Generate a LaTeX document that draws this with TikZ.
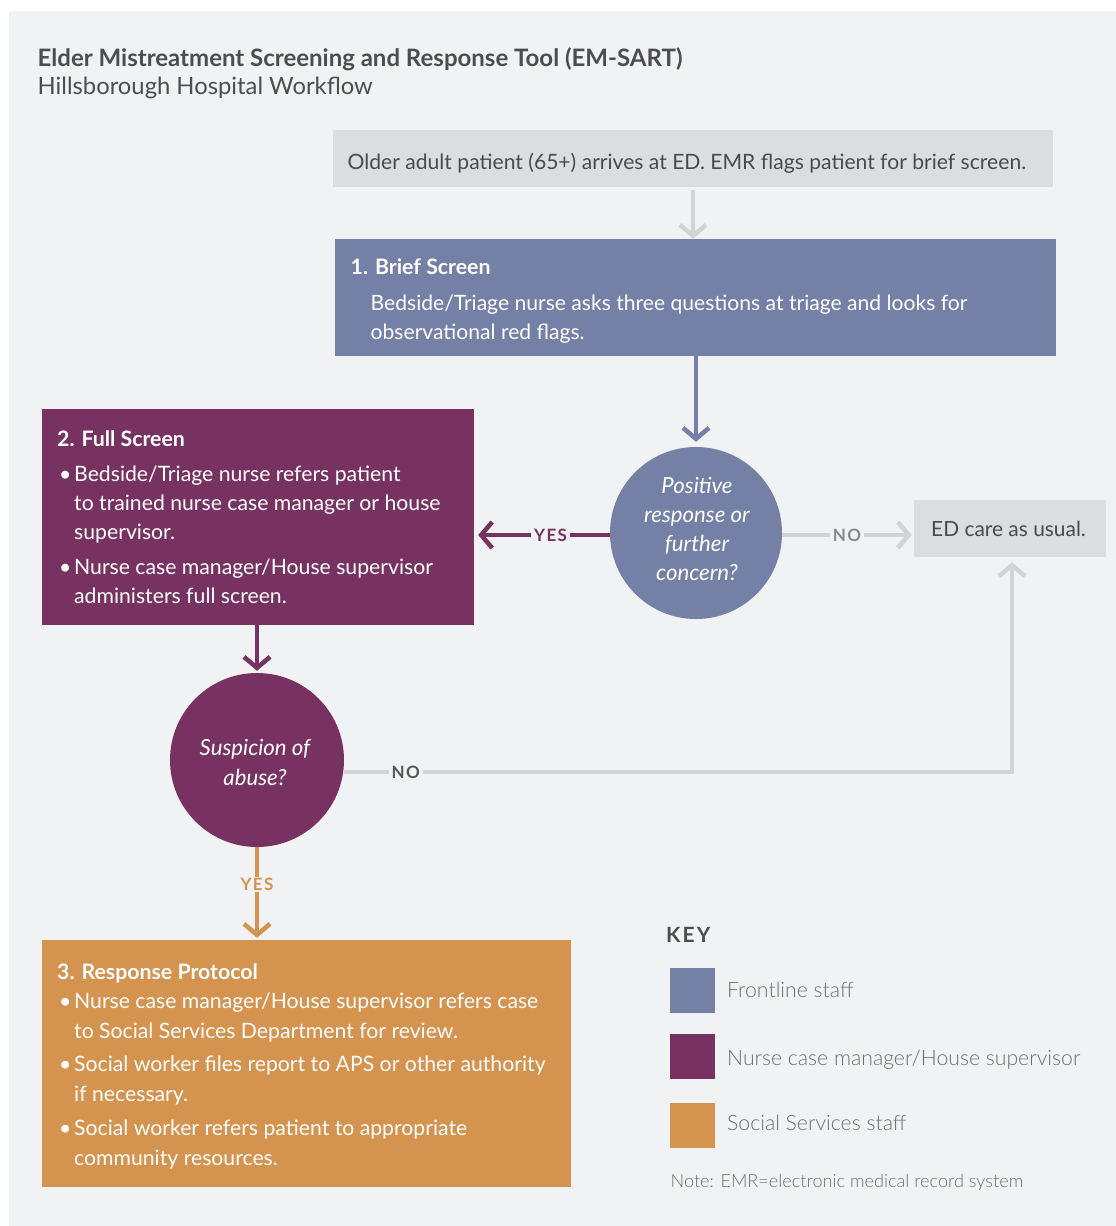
\documentclass[tikz,border=0pt]{standalone}
\usepackage{fontspec}
\setmainfont{Lato}
\newfontfamily\lightfont{Lato Light}
\usetikzlibrary{arrows.meta}
\definecolor{bg}{HTML}{F1F2F4}
\definecolor{graybox}{HTML}{DCDDDF}
\definecolor{arrgray}{HTML}{D2D3D5}
\definecolor{front}{HTML}{7480A6}
\definecolor{nurse}{HTML}{773262}
\definecolor{social}{HTML}{D4934E}
\definecolor{darktxt}{HTML}{4A4A4C}
\definecolor{titletxt}{HTML}{4D4D4F}
\definecolor{legtxt}{HTML}{6E6E70}
\definecolor{nolbl}{HTML}{8A8A8C}
\definecolor{nolbltwo}{HTML}{555557}
\begin{document}
\begin{tikzpicture}[x=1pt,y=-1pt,
  box/.style={rectangle, draw=none, inner sep=0pt},
  circ/.style={circle, draw=none, inner sep=0pt, minimum size=#1},
  tx/.style={anchor=base west, inner sep=0pt, font=\fontsize{21.2}{24}\selectfont},
  ctx/.style={anchor=base, inner sep=0pt, text=white, font=\fontsize{22.2}{24}\selectfont\itshape},
  hd/.style={anchor=base west, inner sep=0pt, text=white, font=\fontsize{21.3}{24}\selectfont\bfseries},
  lgd/.style={anchor=base west, inner sep=0pt, text=legtxt, font=\lightfont\fontsize{21.2}{24}\selectfont},
  arr/.style={line width=4.5pt, -{Straight Barb[length=11pt,width=26pt]}},
  lbl/.style={fill=bg, inner xsep=3pt, inner ysep=1pt, font=\fontsize{17}{20}\selectfont\bfseries\addfontfeature{LetterSpace=8}}
]
\useasboundingbox (0,0) rectangle (1116,1226);
\fill[white] (0,0) rectangle (1116,1226);
\fill[bg] (9,11) rectangle (1116,1226);

% title
\node[anchor=base west, inner sep=0pt, text=titletxt, font=\fontsize{24}{28}\selectfont\bfseries] (title) at (37.5,66.7) {Elder Mistreatment Screening and Response Tool (EM-SART)};
\node[anchor=base west, inner sep=0pt, text=titletxt, font=\fontsize{23.8}{28}\selectfont] (subtitle) at (37.5,94.3) {Hillsborough Hospital Workflow};

% boxes
\node[box, fill=graybox, minimum width=720pt, minimum height=57pt] (arrive) at (693,158.5) {};
\node[box, fill=front, minimum width=721pt, minimum height=117pt] (brief) at (695.5,297.5) {};
\node[circ=172pt, fill=front] (c1) at (696,533) {};
\node[box, fill=graybox, minimum width=192pt, minimum height=57pt] (ed) at (1010,528.5) {};
\node[box, fill=nurse, minimum width=432pt, minimum height=216pt] (full) at (258,517) {};
\node[circ=174pt, fill=nurse] (c2) at (257,760) {};
\node[box, fill=social, minimum width=529pt, minimum height=247pt] (resp) at (306.5,1063.5) {};

% texts in boxes
\node[tx, text=darktxt, font=\fontsize{21.1}{24}\selectfont] (arrivetxt) at (347.5,169) {Older adult patient (65+) arrives at ED. EMR flags patient for brief screen.};
\node[hd] (brieftitle) at (350.5,274.3) {1. Brief Screen};
\node[tx, text=white, font=\fontsize{21.1}{24}\selectfont] (brief1) at (370.5,310.7) {Bedside/Triage nurse asks three questions at triage and looks for};
\node[tx, text=white, font=\fontsize{21.1}{24}\selectfont] (brief2) at (370.5,339) {observational red flags.};

\node[ctx] (c1a) at (697,493) {Positive};
\node[ctx] (c1b) at (697,522) {response or};
\node[ctx] (c1c) at (697,551) {further};
\node[ctx] (c1d) at (697,580) {concern?};

\node[tx, text=darktxt, font=\fontsize{20.9}{24}\selectfont] (edtxt) at (931,536.7) {ED care as usual.};

\node[hd] (fulltitle) at (57,446.7) {2. Full Screen};
\node[tx, text=white] (full1) at (59,481.7) {\makebox[15pt][l]{\textbullet}Bedside/Triage nurse refers patient};
\node[tx, text=white] (full2) at (74,510.7) {to trained nurse case manager or house};
\node[tx, text=white] (full3) at (74,539.3) {supervisor.};
\node[tx, text=white] (full4) at (59,574.7) {\makebox[15pt][l]{\textbullet}Nurse case manager/House supervisor};
\node[tx, text=white] (full5) at (74,603.3) {administers full screen.};

\node[ctx] (c2a) at (255,755) {Suspicion of};
\node[ctx] (c2b) at (255,785) {abuse?};

\node[hd] (resptitle) at (57,979.3) {3. Response Protocol};
\node[tx, text=white] (resp1) at (59,1008.7) {\makebox[15pt][l]{\textbullet}Nurse case manager/House supervisor refers case};
\node[tx, text=white] (resp2) at (74,1038.3) {to Social Services Department for review.};
\node[tx, text=white] (resp3) at (59,1071.7) {\makebox[15pt][l]{\textbullet}Social worker files report to APS or other authority};
\node[tx, text=white] (resp4) at (74,1101.7) {if necessary.};
\node[tx, text=white] (resp5) at (59,1135) {\makebox[15pt][l]{\textbullet}Social worker refers patient to appropriate};
\node[tx, text=white] (resp6) at (74,1165) {community resources.};

% connector end points
\path ([yshift=-2pt]c1.west) coordinate (c1w);
\path ([yshift=-2pt]c1.east) coordinate (c1e);
\path (c1w -| full.east) ++(4,0) coordinate (yesend);
\path (c1e -| ed.west) ++(-2,0) coordinate (noend);
\path ([yshift=-12pt]c2.east) coordinate (c2e);
\path ([xshift=2pt,yshift=-5pt]ed.south) coordinate (edin);
\path (c2.south |- resp.north) ++(0,-2) coordinate (respin);
\path (c2.north |- full.south) coordinate (fullout);
\path (c1.north |- brief.south) coordinate (briefout);
\path (brief.north -| arrive.south) coordinate (briefin);

% connectors
\draw[arr, arrgray] ([yshift=-3pt]arrive.south) -- (briefin);
\draw[arr, front] (briefout) -- ([yshift=5pt]c1.north);
\draw[arr, nurse] (c1w) -- (yesend)
  node[lbl, text=nurse, pos=0.45] (yes1) {YES};
\draw[arr, arrgray] (c1e) -- (noend)
  node[lbl, text=nolbl, pos=0.5] (no1) {NO};
\draw[arr, nurse] (fullout) -- ([yshift=2pt]c2.north);
\draw[arr, arrgray] (c2e) -| (edin)
  node[lbl, text=nolbltwo, pos=0.046] (no2) {NO};
\draw[arr, social] (c2.south) -- (respin)
  node[lbl, text=social, pos=0.41] (yes2) {YES};

% legend
\node[anchor=base west, inner sep=0pt, text=titletxt, font=\fontsize{21}{24}\selectfont\bfseries\addfontfeature{LetterSpace=10}] (key) at (666,942.7) {KEY};
\node[box, fill=front, minimum size=45pt] (k1) at (692.5,990.5) {};
\node[box, fill=nurse, minimum size=45pt] (k2) at (692.5,1056.5) {};
\node[box, fill=social, minimum size=45pt] (k3) at (692.5,1125.5) {};
\node[lgd] (k1t) at (727,997.7) {Frontline staff};
\node[lgd] (k2t) at (727,1065) {Nurse case manager/House supervisor};
\node[lgd] (k3t) at (727,1130.7) {Social Services staff};
\node[anchor=base west, inner sep=0pt, text=legtxt, font=\lightfont\fontsize{18.1}{20}\selectfont] (note) at (670.5,1187.3) {Note: EMR=electronic medical record system};
\end{tikzpicture}
\end{document}
